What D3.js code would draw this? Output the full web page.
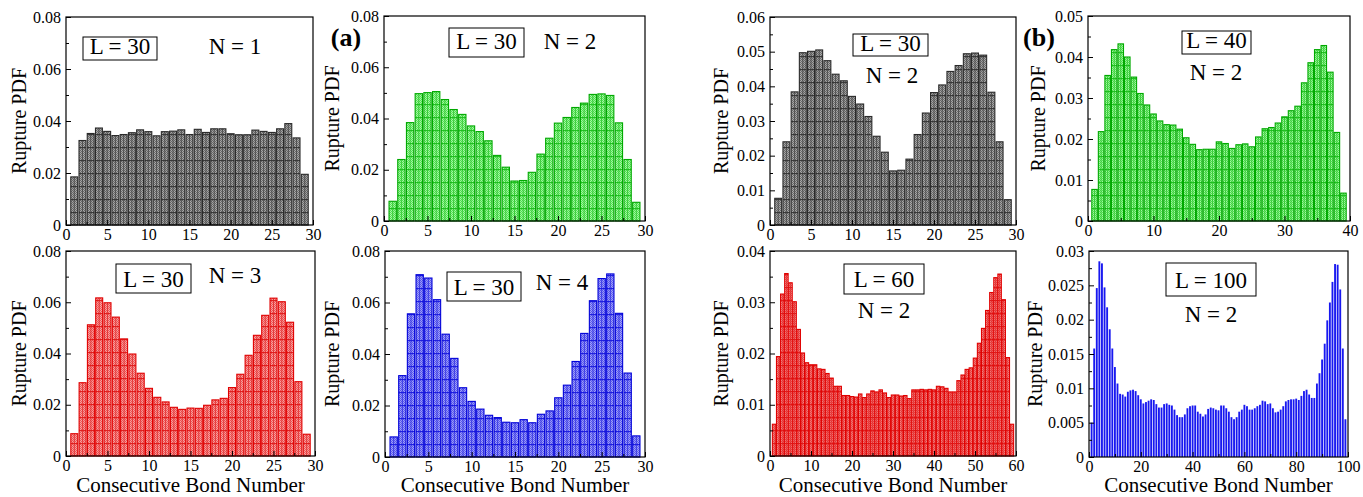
<!DOCTYPE html>
<html>
<head>
<meta charset="utf-8">
<script src="https://cdn.jsdelivr.net/npm/d3@7/dist/d3.min.js"></script>
<style>
  body { margin: 0; background: #fff; }
  svg text { font-family: "Liberation Serif", "DejaVu Serif", serif; fill: #000; }
</style>
</head>
<body>
<div id="chart"></div>
<script>
// rupture PDF per consecutive bond (bond number = index + 1)
var pdfL30N1 = [0.0185, 0.0325, 0.0352, 0.0373, 0.036, 0.0344, 0.0348, 0.0355, 0.0366, 0.0359,
  0.0343, 0.0359, 0.0361, 0.0366, 0.0348, 0.0368, 0.0356, 0.037, 0.037, 0.0351,
  0.0347, 0.0347, 0.0365, 0.036, 0.0356, 0.037, 0.039, 0.0335, 0.0195];
var pdfL30N2 = [0.0077, 0.024, 0.0384, 0.0497, 0.0501, 0.0505, 0.0474, 0.0435, 0.0416, 0.0371,
  0.0349, 0.0313, 0.0256, 0.021, 0.0156, 0.0158, 0.019, 0.0261, 0.0323, 0.0382,
  0.0404, 0.0443, 0.046, 0.0494, 0.0496, 0.049, 0.0383, 0.024, 0.0073];
var pdfL30N3 = [0.0087, 0.0286, 0.0512, 0.0617, 0.0598, 0.0542, 0.0457, 0.0398, 0.0323, 0.0264,
  0.0229, 0.0211, 0.019, 0.0182, 0.0187, 0.0186, 0.0198, 0.0219, 0.0225, 0.0267,
  0.0319, 0.0393, 0.0471, 0.0549, 0.0616, 0.0602, 0.0522, 0.029, 0.0085];
var pdfL30N4 = [0.0078, 0.0316, 0.0556, 0.0708, 0.0695, 0.0611, 0.0477, 0.0383, 0.0269, 0.0216,
  0.0186, 0.0162, 0.0153, 0.0135, 0.0133, 0.0145, 0.0133, 0.0166, 0.0179, 0.023,
  0.0279, 0.0371, 0.048, 0.0607, 0.0693, 0.0711, 0.0558, 0.0326, 0.0082];
var pdfL40N2 = [0.0077, 0.0218, 0.0355, 0.0418, 0.0432, 0.040, 0.0351, 0.0311, 0.0283, 0.0261,
  0.0244, 0.0235, 0.0234, 0.0224, 0.0203, 0.0187, 0.0174, 0.0175, 0.0175, 0.0193,
  0.0189, 0.0177, 0.0186, 0.0188, 0.0181, 0.0205, 0.0225, 0.0228, 0.0239, 0.0254,
  0.0269, 0.028, 0.0337, 0.0386, 0.0418, 0.0428, 0.0363, 0.0216, 0.0068];
var pdfL60N2 = [0.0062, 0.0194, 0.0316, 0.0356, 0.0338, 0.0301, 0.0247, 0.0201, 0.0182, 0.0178,
  0.0178, 0.017, 0.0169, 0.0161, 0.0152, 0.0136, 0.0136, 0.0118, 0.0118, 0.0116,
  0.0115, 0.0121, 0.0114, 0.0121, 0.0127, 0.0125, 0.0129, 0.0123, 0.0114, 0.0119,
  0.0119, 0.0117, 0.0118, 0.0112, 0.0129, 0.0129, 0.013, 0.0129, 0.013, 0.0129,
  0.0136, 0.0135, 0.0132, 0.0125, 0.0125, 0.0147, 0.0158, 0.0169, 0.0172, 0.0191,
  0.022, 0.0249, 0.0284, 0.0319, 0.0348, 0.0355, 0.0305, 0.0192, 0.0062];
var pdfL100N2 = [0.0050, 0.0158, 0.0246, 0.0285, 0.0282, 0.0247, 0.0218, 0.0186, 0.0158, 0.0131,
  0.0107, 0.0092, 0.0091, 0.0088, 0.0095, 0.0097, 0.0098, 0.0096, 0.009, 0.0084,
  0.0078, 0.008, 0.0082, 0.0084, 0.0083, 0.0077, 0.0072, 0.0072, 0.0077, 0.0078,
  0.0076, 0.0075, 0.0069, 0.0061, 0.0058, 0.0058, 0.0062, 0.0071, 0.0074, 0.0075,
  0.0075, 0.0066, 0.0063, 0.0059, 0.0062, 0.007, 0.0072, 0.0071, 0.0069, 0.0068,
  0.0075, 0.0075, 0.0071, 0.0066, 0.0058, 0.0055, 0.0058, 0.0066, 0.0069, 0.0076,
  0.0074, 0.0069, 0.0069, 0.0071, 0.0074, 0.0076, 0.0082, 0.0081, 0.0077, 0.0078,
  0.0071, 0.0065, 0.0066, 0.0069, 0.0074, 0.0081, 0.0083, 0.0084, 0.0084, 0.0085,
  0.0083, 0.0089, 0.0096, 0.0098, 0.0091, 0.0086, 0.0086, 0.0107, 0.0122, 0.0142,
  0.0165, 0.0199, 0.0225, 0.0255, 0.0281, 0.028, 0.0244, 0.0158, 0.0055];

// tick values
var xTicksL30 = [0, 5, 10, 15, 20, 25, 30];
var xTicksL40 = [0, 10, 20, 30, 40];
var xTicksL60 = [0, 10, 20, 30, 40, 50, 60];
var xTicksL100 = [0, 20, 40, 60, 80, 100];
var yTicks008 = [0, 0.02, 0.04, 0.06, 0.08];
var yTicks006 = [0, 0.01, 0.02, 0.03, 0.04, 0.05, 0.06];
var yTicks005 = [0, 0.01, 0.02, 0.03, 0.04, 0.05];
var yTicks004 = [0, 0.01, 0.02, 0.03, 0.04];
var yTicks003 = [0, 0.005, 0.01, 0.015, 0.02, 0.025, 0.03];

var colors = {
    grey:  { light: "#a8a8a8", dark: "#6a6a6a", edge: "#2a2a2a", line: "#3a3a3a" },
    green: { light: "#a4f7a4", dark: "#52e052", edge: "#00a800", line: "#22c022" },
    red:   { light: "#f7a0a0", dark: "#ee5656", edge: "#e00000", line: "#e02020" },
    blue:  { light: "#a0a0f7", dark: "#5c5cee", edge: "#0000d8", line: "#2020e0" }
};

var panels = [
    { data: pdfL30N1, xTicks: xTicksL30, yTicks: yTicks008, x0: 66, x1: 313, y0: 17, y1: 225, col: "grey",
      box: [83, 37, 74, 23], lab: "L = 30", labY: 54, n: "N = 1", nX: 235, nY: 54, titleX: 18.5 },
    { data: pdfL30N2, xTicks: xTicksL30, yTicks: yTicks008, x0: 384, x1: 645, y0: 16, y1: 221, col: "green",
      box: [449, 28, 75, 29], lab: "L = 30", labY: 49, n: "N = 2", nX: 570, nY: 49, titleX: 332 },
    { data: pdfL30N3, xTicks: xTicksL30, yTicks: yTicks008, x0: 66, x1: 315, y0: 251, y1: 456, col: "red",
      box: [116, 264, 75, 29], lab: "L = 30", labY: 287, n: "N = 3", nX: 235, nY: 283, titleX: 18.5 },
    { data: pdfL30N4, xTicks: xTicksL30, yTicks: yTicks008, x0: 385, x1: 645, y0: 251, y1: 457, col: "blue",
      box: [447, 272, 74, 29], lab: "L = 30", labY: 295, n: "N = 4", nX: 562, nY: 290, titleX: 332 },
    { data: pdfL30N2, xTicks: xTicksL30, yTicks: yTicks006, x0: 770, x1: 1016, y0: 17, y1: 225, col: "grey",
      box: [853, 34, 75, 22], lab: "L = 30", labY: 51, n: "N = 2", nX: 892, nY: 83, titleX: 721 },
    { data: pdfL40N2, xTicks: xTicksL40, yTicks: yTicks005, x0: 1088, x1: 1350, y0: 16, y1: 221, col: "green",
      box: [1182, 31, 69, 23], lab: "L = 40", labY: 48, n: "N = 2", nX: 1216, nY: 80, titleX: 1038 },
    { data: pdfL60N2, xTicks: xTicksL60, yTicks: yTicks004, x0: 770, x1: 1016, y0: 251, y1: 456, col: "red",
      box: [844, 264, 80, 30], lab: "L = 60", labY: 287, n: "N = 2", nX: 884, nY: 318, titleX: 721 },
    { data: pdfL100N2, xTicks: xTicksL100, yTicks: yTicks003, x0: 1089, x1: 1348, y0: 251, y1: 457, col: "solidblue",
      box: [1166, 263, 90, 33], lab: "L = 100", labY: 288, n: "N = 2", nX: 1211, nY: 322, titleX: 1035 }
];

var svg = d3.select("#chart").append("svg")
    .attr("width", 1363)
    .attr("height", 497);

var defs = svg.append("defs");

// checker + horizontal line patterns for the hatched bars
Object.keys(colors).forEach(function (k) {
    var c = colors[k];
    var p = defs.append("pattern").attr("id", "chk-" + k)
        .attr("patternUnits", "userSpaceOnUse").attr("width", 2).attr("height", 2);
    p.append("rect").attr("width", 2).attr("height", 2).attr("fill", c.light);
    p.append("rect").attr("width", 1).attr("height", 1).attr("fill", c.dark);
    p.append("rect").attr("x", 1).attr("y", 1).attr("width", 1).attr("height", 1).attr("fill", c.dark);
});

// one line pattern per panel so the lines start from each panel's baseline
function linePattern(id, col, base) {
    var h = defs.append("pattern").attr("id", id)
        .attr("patternUnits", "userSpaceOnUse").attr("width", 10).attr("height", 13)
        .attr("patternTransform", "translate(0," + (base % 13) + ")");
    h.append("rect").attr("y", 0).attr("width", 10).attr("height", 1.2).attr("fill", col);
}

var fmt = function (d) { return String(+d.toFixed(4)); };

panels.forEach(function (p, pi) {
    var L = p.xTicks[p.xTicks.length - 1];
    var x = d3.scaleLinear().domain([0, L]).range([p.x0, p.x1]);
    var y = d3.scaleLinear().domain([0, p.yTicks[p.yTicks.length - 1]]).range([p.y1, p.y0]);
    var g = svg.append("g");
    var step = x(1) - x(0);

    if (p.col === "solidblue") {
        g.selectAll("rect.bar").data(p.data).enter().append("rect")
            .attr("class", "bar")
            .attr("x", function (d, i) { return x(i + 1) - step * 0.36; })
            .attr("width", step * 0.72)
            .attr("y", function (d) { return y(d); })
            .attr("height", function (d) { return y(0) - y(d); })
            .attr("fill", "#1818f0");
    } else {
        var c = colors[p.col];
        var bw = step * 0.84;
        linePattern("hl-" + pi, c.line, p.y1);
        var bars = g.selectAll("g.bar").data(p.data).enter().append("g").attr("class", "bar");
        bars.append("rect")
            .attr("x", function (d, i) { return x(i + 1) - bw / 2; })
            .attr("width", bw)
            .attr("y", function (d) { return y(d); })
            .attr("height", function (d) { return y(0) - y(d); })
            .attr("fill", "url(#chk-" + p.col + ")");
        bars.append("rect")
            .attr("x", function (d, i) { return x(i + 1) - bw / 2; })
            .attr("width", bw)
            .attr("y", function (d) { return y(d); })
            .attr("height", function (d) { return y(0) - y(d); })
            .attr("fill", "url(#hl-" + pi + ")");
        bars.append("line")
            .attr("x1", function (d, i) { return x(i + 1); })
            .attr("x2", function (d, i) { return x(i + 1); })
            .attr("y1", function (d) { return y(d); })
            .attr("y2", y(0))
            .attr("stroke", c.line).attr("stroke-width", 1).attr("opacity", 0.7);
        bars.append("rect")
            .attr("x", function (d, i) { return x(i + 1) - bw / 2; })
            .attr("width", bw)
            .attr("y", function (d) { return y(d); })
            .attr("height", function (d) { return y(0) - y(d); })
            .attr("fill", "none")
            .attr("stroke", c.edge).attr("stroke-width", 1.1);
    }

    // minor ticks halfway between majors
    var yMinor = [], xMinor = [];
    for (var i = 0; i < p.yTicks.length - 1; i++) yMinor.push((p.yTicks[i] + p.yTicks[i + 1]) / 2);
    for (var j = 0; j < p.xTicks.length - 1; j++) xMinor.push((p.xTicks[j] + p.xTicks[j + 1]) / 2);

    var yAx = g.append("g").attr("transform", "translate(" + p.x0 + ",0)")
        .call(d3.axisLeft(y).tickValues(p.yTicks).tickSize(-5).tickPadding(5).tickFormat(fmt));
    g.append("g").attr("transform", "translate(" + p.x0 + ",0)")
        .call(d3.axisLeft(y).tickValues(yMinor).tickSize(-3).tickFormat(""))
        .select(".domain").remove();
    var xAx = g.append("g").attr("transform", "translate(0," + p.y1 + ")")
        .call(d3.axisBottom(x).tickValues(p.xTicks).tickSize(-5).tickPadding(4).tickFormat(fmt));
    g.append("g").attr("transform", "translate(0," + p.y1 + ")")
        .call(d3.axisBottom(x).tickValues(xMinor).tickSize(-3).tickFormat(""))
        .select(".domain").remove();
    yAx.select(".domain").remove();
    xAx.select(".domain").remove();
    g.selectAll(".tick text")
        .style("font-family", "Liberation Serif, serif")
        .style("font-size", "16px")
        .attr("fill", "#000");
    g.selectAll(".tick line").attr("stroke", "#000");

    // frame
    g.append("rect")
        .attr("x", p.x0).attr("y", p.y0)
        .attr("width", p.x1 - p.x0).attr("height", p.y1 - p.y0)
        .attr("fill", "none").attr("stroke", "#000").attr("stroke-width", 1.2);

    // y title
    g.append("text")
        .attr("transform", "translate(" + p.titleX + "," + ((p.y0 + p.y1) / 2) + ") rotate(-90)")
        .attr("text-anchor", "middle")
        .attr("dy", "0.35em")
        .style("font-size", "20px")
        .text("Rupture PDF");

    // x title on bottom row
    if (p.y0 > 200) {
        g.append("text")
            .attr("x", (p.x0 + p.x1) / 2)
            .attr("y", 492)
            .attr("text-anchor", "middle")
            .style("font-size", "21px")
            .text("Consecutive Bond Number");
    }

    // label box
    g.append("rect")
        .attr("x", p.box[0]).attr("y", p.box[1])
        .attr("width", p.box[2]).attr("height", p.box[3])
        .attr("fill", "#fff").attr("stroke", "#000").attr("stroke-width", 1);
    g.append("text")
        .attr("x", p.box[0] + p.box[2] / 2).attr("y", p.labY)
        .attr("text-anchor", "middle")
        .style("font-size", "23px")
        .text(p.lab);
    g.append("text")
        .attr("x", p.nX).attr("y", p.nY)
        .attr("text-anchor", "middle")
        .style("font-size", "23px")
        .text(p.n);
});

// panel letters
svg.append("text").attr("x", 346).attr("y", 46).attr("text-anchor", "middle")
    .style("font-size", "26px").style("font-weight", "bold").text("(a)");
svg.append("text").attr("x", 1039).attr("y", 46).attr("text-anchor", "middle")
    .style("font-size", "26px").style("font-weight", "bold").text("(b)");
</script>
</body>
</html>
